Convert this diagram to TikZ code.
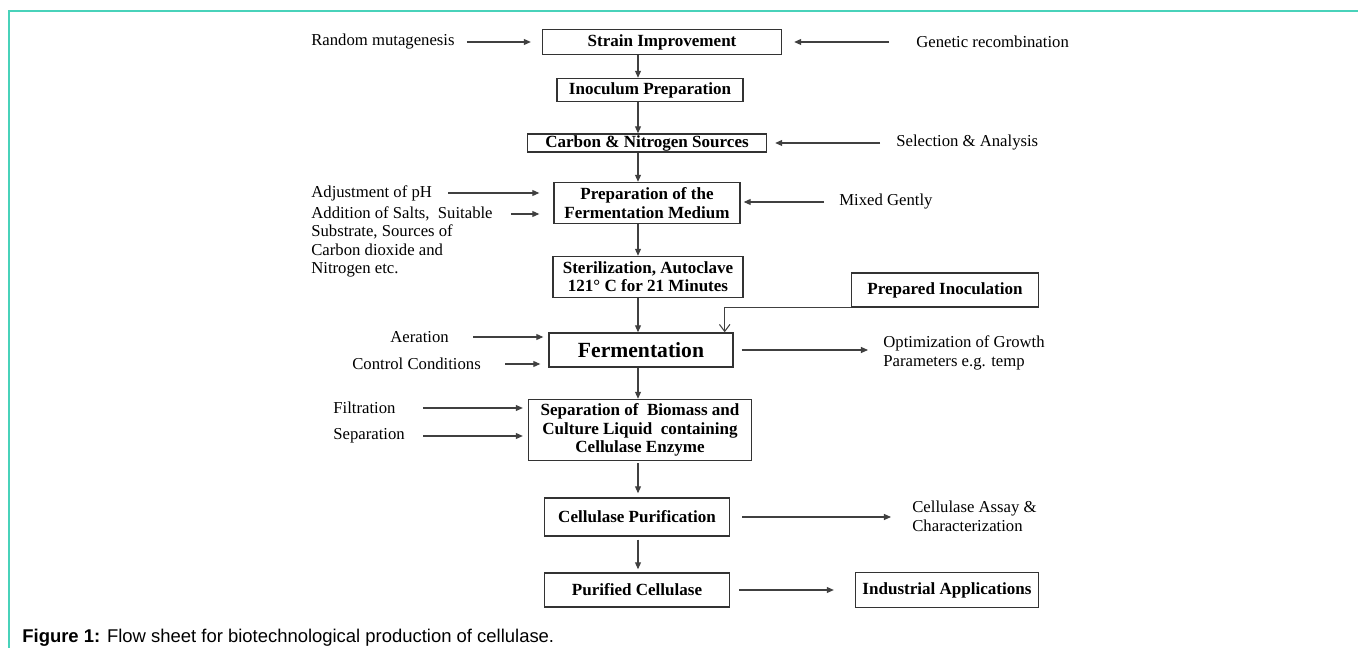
\documentclass[tikz,border=0pt]{standalone}
\usepackage{fontspec}
\setmainfont{Liberation Serif}
\newfontfamily\capfont{Liberation Sans}
\usepackage{tikz}
\usetikzlibrary{arrows.meta,calc}
\definecolor{frameteal}{RGB}{72,210,186}

\begin{document}
\begin{tikzpicture}[x=0.02cm, y=-0.02cm,
  box/.style={draw=black!80, line width=.8pt, inner sep=0pt, align=center, font=\fontsize{9.7}{10.4}\selectfont\bfseries},
  lbl/.style={anchor=west, inner sep=0pt, align=left, font=\fontsize{9.5}{10.6}\selectfont},
  arr/.style={draw=black!75, line width=.6pt, -{Triangle[length=4pt,width=3.4pt]}},
  barb/.style={draw=black!75, line width=.6pt, -{Straight Barb[length=4pt,width=6pt]}}]
  \useasboundingbox (0,0) rectangle (1358,648);
  \draw[frameteal, line width=1.1pt] (9,648) -- (9,11) -- (1358,11);
  \coordinate (spine) at (638,0);
  \node[box, minimum width=4.78cm, minimum height=.5cm] (strain) at (662,42) {Strain Improvement};
  \node[box, minimum width=3.72cm, minimum height=.46cm] (inoc) at (650,90) {Inoculum Preparation};
  \node[box, minimum width=4.78cm, minimum height=.36cm] (carbon) at (647,143) {Carbon \& Nitrogen Sources};
  \node[box, minimum width=3.72cm, minimum height=.82cm] (prep) at (647,203) {Preparation of the\\Fermentation Medium};
  \node[box, minimum width=3.8cm, minimum height=.82cm] (steril) at (648,277) {Sterilization, Autoclave\\121° C for 21 Minutes};
  \node[box, minimum width=3.74cm, minimum height=.68cm] (pinoc) at (945,290) {Prepared Inoculation};
  \node[box, minimum width=3.68cm, minimum height=.68cm, font=\fontsize{12.3}{14}\selectfont\bfseries] (ferm) at (641,350) {Fermentation};
  \node[box, minimum width=4.46cm, minimum height=1.22cm] (sep) at (640,430) {Separation of\ \ Biomass and\\Culture Liquid\ \ containing\\Cellulase Enzyme};
  \node[box, minimum width=3.7cm, minimum height=.76cm] (cpur) at (637,517) {Cellulase Purification};
  \node[box, minimum width=3.7cm, minimum height=.68cm] (pure) at (637,590) {Purified Cellulase};
  \node[box, minimum width=3.66cm, minimum height=.7cm] (indus) at (947,590) {Industrial Applications};
  \node[lbl] (rm) at (311,42) {Random mutagenesis};
  \node[lbl] (gr) at (916,42) {Genetic recombination};
  \node[lbl] (sa) at (896,143) {Selection \& Analysis};
  \node[lbl] (adj) at (311,193) {Adjustment of pH};
  \node[lbl, anchor=north west] (add) at (311,206) {Addition of Salts,\ \ Suitable\\Substrate, Sources of\\Carbon dioxide and\\Nitrogen etc.};
  \node[lbl] (mg) at (839,202) {Mixed Gently};
  \node[lbl] (aer) at (390,337) {Aeration};
  \node[lbl] (cc) at (352,364) {Control Conditions};
  \node[lbl] (opt) at (883,353) {Optimization of Growth\\Parameters e.g. temp};
  \node[lbl] (filt) at (333,408) {Filtration};
  \node[lbl] (sepl) at (333,436) {Separation};
  \node[lbl] (assay) at (912,516) {Cellulase Assay \&\\Characterization};
  \node[anchor=west, inner sep=0pt, font=\capfont\fontsize{10.5}{12}\selectfont] (cap) at (22,638) {\textbf{Figure 1:} Flow sheet for biotechnological production of cellulase.};
  \draw[arr] ($(rm.east)+(12,0)$) -- ($(strain.west)+(-11,0)$);
  \draw[arr] ($(gr.west)+(-27,0)$) -- ($(strain.east)+(12,0)$);
  \draw[arr] (strain.south -| spine) -- (inoc.north -| spine);
  \draw[arr] (inoc.south -| spine) -- (carbon.north -| spine);
  \draw[arr] ($(sa.west)+(-16,0)$) -- ($(sa.west -| carbon.east)+(8,0)$);
  \draw[arr] (carbon.south -| spine) -- (prep.north -| spine);
  \draw[arr] ($(adj.east)+(16,0)$) -- ($(adj.east -| prep.west)+(-14,0)$);
  \draw[arr] ($(add.north east)+(18,8)$) -- ($(add.north east -| prep.west)+(-14,8)$);
  \draw[arr] ($(mg.west)+(-15,0)$) -- ($(mg.west -| prep.east)+(3,0)$);
  \draw[arr] (prep.south -| spine) -- (steril.north -| spine);
  \draw[arr] (steril.south -| spine) -- (ferm.north -| spine);
  \draw[barb] (pinoc.south west) -| ($(ferm.north east)+(-9,0)$);
  \draw[arr] ($(aer.east)+(24,0)$) -- ($(aer.east -| ferm.west)+(-5,0)$);
  \draw[arr] ($(cc.east)+(24,0)$) -- ($(cc.east -| ferm.west)+(-8,0)$);
  \draw[arr] ($(ferm.east)+(8,0)$) -- ($(ferm.east -| opt.west)+(-15,0)$);
  \draw[arr] (ferm.south -| spine) -- (sep.north -| spine);
  \draw[arr] ($(filt.east)+(27,0)$) -- ($(filt.east -| sep.west)+(-5,0)$);
  \draw[arr] ($(sepl.east)+(18,0)$) -- ($(sepl.east -| sep.west)+(-5,0)$);
  \draw[arr] ($(sep.south -| spine)+(0,2)$) -- ($(cpur.north -| spine)+(0,-4)$);
  \draw[arr] ($(cpur.east)+(12,0)$) -- ($(cpur.east -| assay.west)+(-21,0)$);
  \draw[arr] ($(cpur.south -| spine)+(0,3)$) -- ($(pure.north -| spine)+(0,-3)$);
  \draw[arr] ($(pure.east)+(9,0)$) -- ($(indus.west)+(-21,0)$);
\end{tikzpicture}
\end{document}
